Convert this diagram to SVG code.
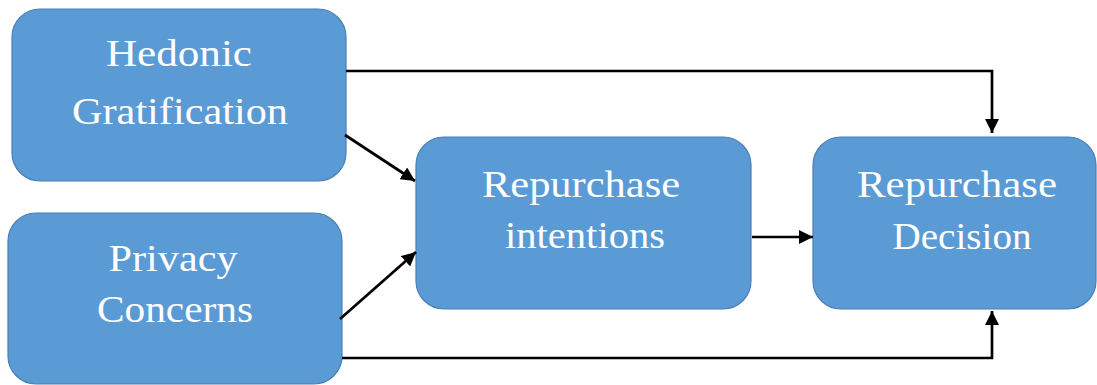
<svg xmlns="http://www.w3.org/2000/svg" width="1097" height="385" viewBox="0 0 1097 385">
  <defs>
    <style>
      .box { fill: #5B9BD5; stroke: #4A7EB5; stroke-width: 1.2; }
      .lbl { font-family: "Liberation Serif", "Times New Roman", serif; font-size: 38px; fill: #FFFFFF; text-anchor: middle; }
      .conn { fill: none; stroke: #000000; stroke-width: 2.7; }
    </style>
    <marker id="ah" markerUnits="userSpaceOnUse" markerWidth="15" markerHeight="14" refX="14" refY="7" orient="auto">
      <path d="M0,0 L14,7 L0,14 Z" fill="#000000"/>
    </marker>
  </defs>
  <rect width="1097" height="385" fill="#FFFFFF"/>

  <g id="hedonic">
    <rect class="box" x="12" y="9" width="334" height="172" rx="28" ry="28"/>
    <text class="lbl" x="179" y="66" textLength="146" lengthAdjust="spacingAndGlyphs">Hedonic</text>
    <text class="lbl" x="180" y="124" textLength="216" lengthAdjust="spacingAndGlyphs">Gratification</text>
  </g>

  <g id="privacy">
    <rect class="box" x="8" y="213" width="334" height="171" rx="28" ry="28"/>
    <text class="lbl" x="173" y="271" textLength="129" lengthAdjust="spacingAndGlyphs">Privacy</text>
    <text class="lbl" x="175" y="322" textLength="156" lengthAdjust="spacingAndGlyphs">Concerns</text>
  </g>

  <g id="intentions">
    <rect class="box" x="416" y="137" width="335" height="172" rx="28" ry="28"/>
    <text class="lbl" x="581" y="197" textLength="198" lengthAdjust="spacingAndGlyphs">Repurchase</text>
    <text class="lbl" x="585" y="248" textLength="160" lengthAdjust="spacingAndGlyphs">intentions</text>
  </g>

  <g id="decision">
    <rect class="box" x="813" y="137" width="283" height="172" rx="28" ry="28"/>
    <text class="lbl" x="957" y="197" textLength="200" lengthAdjust="spacingAndGlyphs">Repurchase</text>
    <text class="lbl" x="962" y="249" textLength="139" lengthAdjust="spacingAndGlyphs">Decision</text>
  </g>

  <g id="connectors">
    <path class="conn" d="M346,71 L992,71 L992,133" marker-end="url(#ah)"/>
    <path class="conn" d="M342,358 L992,358 L992,311" marker-end="url(#ah)"/>
    <path class="conn" d="M752,237 L813,237" marker-end="url(#ah)"/>
    <path class="conn" d="M345,135 L415,181" marker-end="url(#ah)"/>
    <path class="conn" d="M340,319 L416,252" marker-end="url(#ah)"/>
  </g>
</svg>
